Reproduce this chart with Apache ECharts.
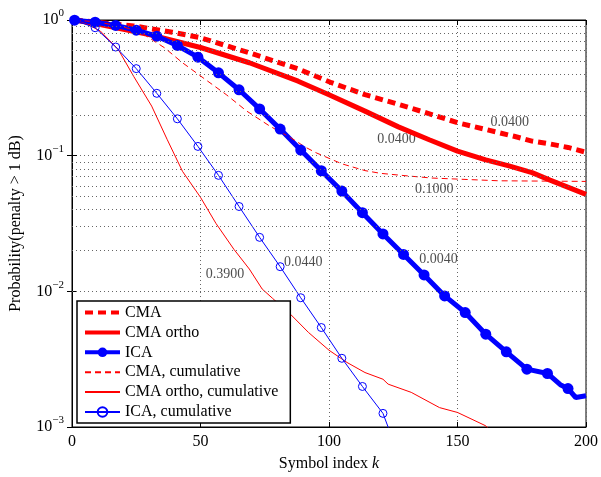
<!DOCTYPE html>
<html>
<head>
<meta charset="utf-8">
<script src="https://cdn.jsdelivr.net/npm/echarts@6/dist/echarts.min.js"></script>
<style>
html, body { margin: 0; padding: 0; background: #fff; }
#chart { width: 601px; height: 477px; }
</style>
</head>
<body>
<div id="chart"></div>
<script>
// values: k = symbol index, p = probability
const cmaK = [1, 24, 39, 50, 69, 88, 101, 114, 127, 140, 150, 166, 172, 179, 186, 193, 200];
const cmaP = [1.0, 0.904, 0.813, 0.740, 0.573, 0.436, 0.345, 0.282, 0.239, 0.201, 0.175, 0.148,
              0.139, 0.128, 0.122, 0.115, 0.106];

const orthoK = [1, 11, 30, 50, 69, 88, 100, 114, 127, 139, 150, 161, 170, 179, 186, 200];
const orthoP = [1.0, 0.927, 0.782, 0.627, 0.484, 0.354, 0.281, 0.213, 0.163, 0.131, 0.108, 0.093,
                0.084, 0.075, 0.066, 0.0519];

const icaK = [1, 9, 17, 25, 33, 41, 49, 57, 65, 73, 81, 89, 97, 105, 113, 121, 129, 137, 145,
              153, 161, 169, 177, 185, 190, 193, 196, 200];
const icaP = [0.997, 0.964, 0.912, 0.841, 0.760, 0.649, 0.532, 0.408, 0.306, 0.221, 0.157, 0.110,
              0.0774, 0.0548, 0.0380, 0.0265, 0.0187, 0.0132, 0.00925, 0.00698, 0.00483, 0.00358,
              0.00267, 0.00248, 0.00205, 0.00192, 0.00165, 0.00170];

const cmaCumK = [1, 10, 20, 27, 36, 43, 51, 60, 68, 77, 85, 91, 95, 105, 114, 120, 131, 140, 166, 200];
const cmaCumP = [1.0, 0.966, 0.891, 0.805, 0.624, 0.484, 0.375, 0.282, 0.213, 0.165, 0.136, 0.115,
                 0.105, 0.0871, 0.0776, 0.0741, 0.0708, 0.0684, 0.0653, 0.0646];

const orthoCumK = [1, 6, 11, 18, 24, 31, 37, 43, 50, 56, 63, 69, 74, 78, 85, 92, 100, 107, 114,
                   121, 123, 132, 143, 150, 161, 163];
const orthoCumP = [1.0, 0.927, 0.830, 0.607, 0.384, 0.232, 0.132, 0.0766, 0.0493, 0.0317, 0.0204,
                   0.0146, 0.0104, 0.00889, 0.00678, 0.00498, 0.00368, 0.00299, 0.00252, 0.00225,
                   0.00207, 0.00180, 0.00139, 0.00128, 0.00102, 0.00093];

const icaCumK = [1, 9, 17, 25, 33, 41, 49, 57, 65, 73, 81, 89, 97, 105, 113, 121, 124];
const icaCumP = [0.995, 0.877, 0.632, 0.438, 0.288, 0.187, 0.117, 0.0716, 0.0422, 0.0250, 0.0152,
                 0.00897, 0.00541, 0.00321, 0.00199, 0.00126, 0.00089];

// text annotations (left edge, vertical centre)
const noteK = [162.6, 118.6, 133.3, 134.9, 82.3, 51.8];
const noteP = [0.176, 0.132, 0.0565, 0.0171, 0.0164, 0.0133];
const noteText = ['0.0400', '0.0400', '0.1000', '0.0040', '0.0440', '0.3900'];

// minor gridlines of the log axis
const minorP = [];
for (const d of [0.001, 0.01, 0.1]) {
    for (let m = 2; m <= 9; m++) minorP.push(+(m * d).toPrecision(3));
}

const FONT = '"Liberation Serif", "DejaVu Serif", serif';
const RED = '#ff0000';
const BLUE = '#0000ff';

function pairs(ks, ps, markerEvery) {
    return ks.map((k, i) => {
        if (markerEvery && (k - 1) % markerEvery !== 0) {
            return { value: [k, ps[i]], symbol: 'none' };
        }
        return [k, ps[i]];
    });
}

const dotted = { color: '#666', width: 1, type: [1, 3] };
const noSymbol = { color: 'rgba(0,0,0,0)', borderWidth: 0, opacity: 0 };

function supLabel(v) {
    const e = Math.round(Math.log10(v));
    return '{b|10}{s|' + (e < 0 ? '\u2212' + (-e) : e) + '}';
}

const chart = echarts.init(document.getElementById('chart'));
chart.setOption({
    animation: false,
    backgroundColor: '#fff',
    textStyle: { fontFamily: FONT },
    grid: { left: 71, right: 12, top: 20, bottom: 49, show: true, borderColor: '#000', borderWidth: 1 },
    legend: {
        orient: 'vertical',
        left: 77,
        top: 301,
        padding: [3.5, 12, 3, 6],
        itemWidth: 35,
        itemHeight: 12,
        itemGap: 3.9,
        backgroundColor: '#fff',
        borderColor: '#000',
        borderWidth: 1.5,
        borderRadius: 0,
        textStyle: { fontFamily: FONT, fontSize: 16, lineHeight: 16, color: '#000' },
        data: [
            { name: 'CMA', itemStyle: noSymbol, lineStyle: { width: 4, type: [8, 5] } },
            { name: 'CMA ortho', itemStyle: noSymbol, lineStyle: { width: 4 } },
            { name: 'ICA', lineStyle: { width: 4 } },
            { name: 'CMA, cumulative', itemStyle: noSymbol },
            { name: 'CMA ortho, cumulative', itemStyle: noSymbol },
            { name: 'ICA, cumulative' }
        ]
    },
    xAxis: [{
        type: 'value', min: 0, max: 200, interval: 50,
        name: 'Symbol index {i|k}', nameLocation: 'middle', nameGap: 29,
        nameTextStyle: { fontFamily: FONT, fontSize: 16, color: '#000',
            rich: { i: { fontFamily: FONT, fontSize: 16, fontStyle: 'italic', color: '#000' } } },
        axisLine: { lineStyle: { color: '#000', width: 1 } },
        axisTick: { inside: true, length: 5, lineStyle: { color: '#000' } },
        axisLabel: { fontFamily: FONT, fontSize: 16, color: '#000', margin: 7 },
        splitLine: { show: true, lineStyle: dotted }
    }, {
        type: 'value', min: 0, max: 200, interval: 50, position: 'top',
        axisLine: { lineStyle: { color: '#000' } },
        axisTick: { inside: true, length: 5, lineStyle: { color: '#000' } },
        axisLabel: { show: false },
        splitLine: { show: false }
    }],
    yAxis: [{
        type: 'log', logBase: 10, min: 0.001, max: 1, splitNumber: 3,
        name: 'Probability(penalty > 1 dB)', nameLocation: 'middle', nameGap: 48,
        nameTextStyle: { fontFamily: FONT, fontSize: 16, color: '#000' },
        axisLine: { lineStyle: { color: '#000', width: 1 } },
        axisTick: { inside: true, length: 5, lineStyle: { color: '#000' } },
        axisLabel: {
            margin: 8,
            formatter: supLabel,
            rich: {
                b: { fontFamily: FONT, fontSize: 16, color: '#000' },
                s: { fontFamily: FONT, fontSize: 11, color: '#000', padding: [0, 0, 13, 0] }
            }
        },
        splitLine: { show: true, lineStyle: dotted }
    }, {
        type: 'log', logBase: 10, min: 0.001, max: 1, splitNumber: 3, position: 'right',
        axisLine: { lineStyle: { color: '#000' } },
        axisTick: { inside: true, length: 5, lineStyle: { color: '#000' } },
        axisLabel: { show: false },
        splitLine: { show: false }
    }],
    series: [{
        name: 'minor grid',
        type: 'line',
        data: [],
        silent: true,
        markLine: {
            silent: true,
            symbol: 'none',
            label: { show: false },
            lineStyle: dotted,
            data: minorP.map(p => ({ yAxis: p }))
        }
    }, {
        name: 'CMA', type: 'line', data: pairs(cmaK, cmaP),
        symbol: 'none', color: RED,
        lineStyle: { color: RED, width: 5, type: [8, 5] }
    }, {
        name: 'CMA ortho', type: 'line', data: pairs(orthoK, orthoP),
        symbol: 'none', color: RED,
        lineStyle: { color: RED, width: 5 }
    }, {
        name: 'ICA', type: 'line', data: pairs(icaK, icaP, 8),
        symbol: 'circle', symbolSize: 11, showAllSymbol: true, color: BLUE,
        itemStyle: { color: BLUE },
        lineStyle: { color: BLUE, width: 5 }
    }, {
        name: 'CMA, cumulative', type: 'line', data: pairs(cmaCumK, cmaCumP),
        symbol: 'none', color: RED,
        lineStyle: { color: RED, width: 1, type: [6, 4] }
    }, {
        name: 'CMA ortho, cumulative', type: 'line', data: pairs(orthoCumK, orthoCumP),
        symbol: 'none', color: RED,
        lineStyle: { color: RED, width: 1 }
    }, {
        name: 'ICA, cumulative', type: 'line', data: pairs(icaCumK, icaCumP, 8),
        symbol: 'circle', symbolSize: 8, showAllSymbol: true, color: BLUE,
        itemStyle: { color: 'rgba(0,0,0,0)', borderColor: BLUE, borderWidth: 1 },
        lineStyle: { color: BLUE, width: 1 }
    }, {
        name: 'notes', type: 'scatter',
        data: noteK.map((k, i) => [k, noteP[i], noteText[i]]),
        symbolSize: 1,
        itemStyle: { color: 'rgba(0,0,0,0)' },
        silent: true,
        label: {
            show: true, position: 'right', distance: 0,
            formatter: p => p.value[2],
            fontFamily: FONT, fontSize: 14, color: '#222'
        }
    }]
});
</script>
</body>
</html>
